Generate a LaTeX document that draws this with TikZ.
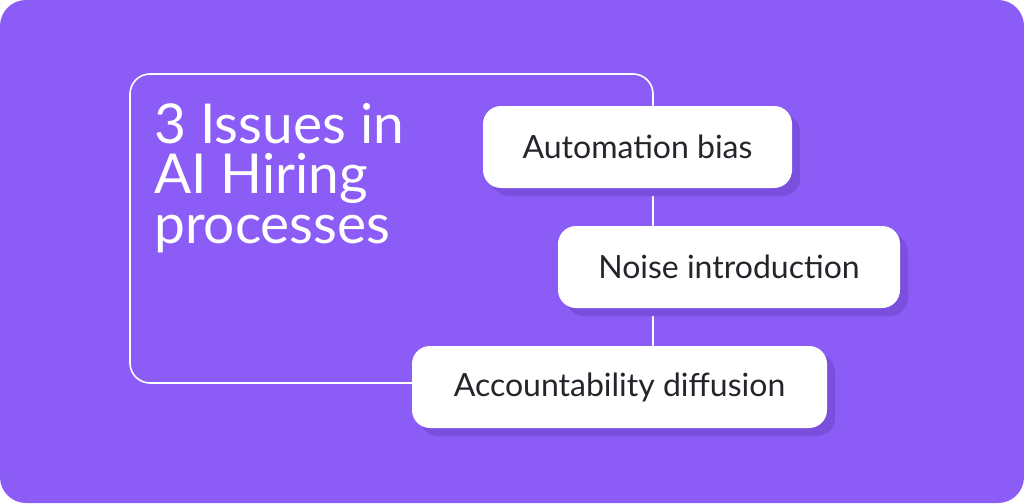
\documentclass[tikz,border=0pt]{standalone}
\usepackage{fontspec}
\setmainfont{Lato}
\usetikzlibrary{shadows}

\definecolor{bgpurple}{HTML}{8B5CF6}
\definecolor{shadepurple}{HTML}{7B4FDD}
\definecolor{inkgray}{HTML}{26242B}

\tikzstyle{frame} = [draw=white,
    line width=1.6pt,
    rounded corners=20pt,
    inner sep=0pt]
\tikzstyle{issue} = [rectangle,
    fill=white,
    rounded corners=18pt,
    minimum height=82pt,
    text=inkgray,
    font=\fontsize{32}{36}\selectfont,
    drop shadow={shadow xshift=8pt, shadow yshift=-8pt,
        fill=shadepurple, opacity=1}]
\tikzstyle{title} = [text=white,
    align=left,
    inner sep=0pt,
    font=\fontsize{55}{50}\selectfont]

\begin{document}
\begin{tikzpicture}[x=1pt,y=-1pt]
    \useasboundingbox (0,0) rectangle (1024,503);
    \fill[bgpurple, rounded corners=26pt] (0,0) rectangle (1024,503);

    \node (frame) [frame, minimum width=523pt, minimum height=309pt] at (391.5,228.5) {};
    \node (heading) [title, anchor=north west] at (154,103) {3 Issues in\\AI Hiring\\processes};

    \node (bias) [issue, minimum width=309pt] at (637.5,147) {Automation bias};
    \node (noise) [issue, minimum width=342pt] at (729,267) {Noise introduction};
    \node (diffusion) [issue, minimum width=415pt] at (619.5,387) {Accountability diffusion};
\end{tikzpicture}
\end{document}
